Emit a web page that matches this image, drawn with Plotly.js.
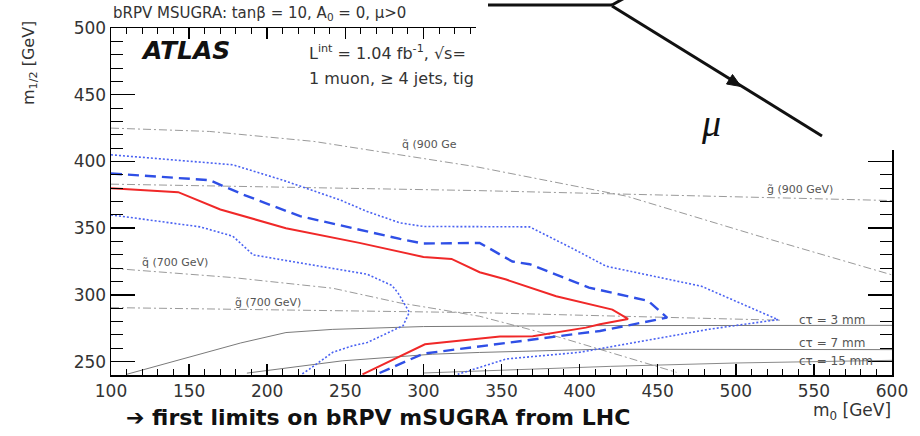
<!DOCTYPE html>
<html><head><meta charset="utf-8">
<script src="https://cdn.plot.ly/plotly-3.0.1.min.js"></script>
<style>html,body{margin:0;padding:0;background:#fff;}#plot{width:920px;height:436px;}</style>
</head><body><div id="plot"></div>
<script>
// Observed limit (red solid)
const obs_m0  = [100,143,170,212,259,300,318,336,353,385,421,431,413,404,370,349,301,261];
const obs_m12 = [380,377,364,350,339,328.5,327,317,311.5,299,289,282,278,275.5,269,268.8,263,240.5];
// Expected limit (blue dashed)
const exp_m0  = [100,163,185,221,285,300,336,357,368,406,444,456,439,413,396,353,311,300,270];
const exp_m12 = [391,386,375,359,342,338.5,339,325,323,305.5,295.5,283,279,273,270.5,264,257.5,256,240.5];
// Expected +1 sigma (outer blue dotted)
const up_m0  = [100,163,178,210,247,264,285,300,368,396,417,478,527,483,430,413,400,353,328,322];
const up_m12 = [405,399,397.5,386,371,362.5,354,351.3,351,334.5,321.5,306.5,281.5,274.3,263,259.3,257,252,243.1,240.5];
// Expected -1 sigma (inner blue dotted)
const dn_m0  = [100,157,178,191,221,264,280,284,291,287,278,264,255,242,227,222];
const dn_m12 = [360,351,344,330,324,315.5,307,301,287,277,272,264.3,262,257,244.4,240.5];
// Squark / gluino iso-mass lines (grey dash-dot)
const sq900_m0 = [100,163,230,334,430,515,600];
const sq900_m12 = [425,422.5,415,396,374,344,315];
const gl900_m0 = [100,334,600];
const gl900_m12 = [383,378.2,370.7];
const sq700_m0 = [100,178,242,285,311,336,388,462];
const sq700_m12 = [320,313,305,294,289,284,268,242];
const gl700_m0 = [100,336,530];
const gl700_m12 = [290.5,286.7,281];
// LSP decay length contours (grey solid)
const ct3_m0 = [110,140,183,212,242,300,400,600];
const ct3_m12 = [240.5,250,264,271.8,274.2,276.3,277,277.2];
const ct7_m0 = [187,210,248,306,336,413,600];
const ct7_m12 = [241.4,245,250.6,255.6,256.9,259.3,259];
const ct15_m0 = [300,350,420,500,600];
const ct15_m12 = [241.5,243.5,246.5,249,251];

const xTicks = [100,150,200,250,300,350,400,450,500,550,600];
const yTicks = [250,300,350,400,450,500];

const F = 'DejaVu Sans';
const dd = '8px,3px,2px,3px';
const grey = '#9a9a9a';
function ln(x,y,color,width,dash){return {x:x,y:y,type:'scatter',mode:'lines',line:{color:color,width:width,dash:dash},hoverinfo:'skip',showlegend:false,cliponaxis:true};}

const data = [
  ln(sq900_m0,sq900_m12,grey,1,dd),
  ln(gl900_m0,gl900_m12,grey,1,dd),
  ln(sq700_m0,sq700_m12,grey,1,dd),
  ln(gl700_m0,gl700_m12,grey,1,dd),
  ln(ct3_m0,ct3_m12,'#7a7a7a',1,'solid'),
  ln(ct7_m0,ct7_m12,'#7a7a7a',1,'solid'),
  ln(ct15_m0,ct15_m12,'#8a8a8a',1,'solid'),
  ln(up_m0,up_m12,'#4a62f2',1.6,'2px,2px'),
  ln(dn_m0,dn_m12,'#4a62f2',1.6,'2px,2px'),
  ln(exp_m0,exp_m12,'#2f4fe6',2.4,'11px,6px'),
  ln(obs_m0,obs_m12,'#f02828',2,'solid')
];

function px2x(p){return (p-111)/781;}
function py2y(p){return (375-p)/347;}

const ann = [];
function A(text,px,py,size,opts){
  ann.push(Object.assign({text:text,xref:'paper',yref:'paper',x:px2x(px),y:py2y(py),xanchor:'left',yanchor:'middle',showarrow:false,font:{family:F,size:size,color:'#333'}},opts||{}));
}
A('bRPV MSUGRA: tanβ = 10, A<sub>0</sub> = 0, μ>0',111,14,15);
A('<b><i>ATLAS</i></b>',139,50,25,{font:{family:F,size:25,color:'#111'}});
A('L<sup>int</sup> = 1.04 fb<sup>-1</sup>, √s=',307,52,16);
A('1 muon, ≥ 4 jets, tig',307,78,16);
A('q̃ (900 Ge',400,144,11,{font:{family:F,size:11,color:'#555'}});
A('g̃ (900 GeV)',765,189,11,{font:{family:F,size:11,color:'#555'}});
A('q̃ (700 GeV)',140,262,11,{font:{family:F,size:11,color:'#555'}});
A('g̃ (700 GeV)',233,302,11,{font:{family:F,size:11,color:'#555'}});
A('cτ = 3 mm',797,320,12,{font:{family:F,size:12,color:'#555'}});
A('cτ = 7 mm',797,343,12,{font:{family:F,size:12,color:'#555'}});
A('cτ = 15 mm',797,361,12,{font:{family:F,size:12,color:'#555'}});
A('m<sub>0</sub> [GeV]',893,411,17,{xanchor:'right'});
A('m<sub>1/2</sub> [GeV]',29,63,16,{xanchor:'center',textangle:-90});
A('<b>➔ first limits on bRPV mSUGRA from LHC</b>',124,418,22,{yanchor:'bottom',y:py2y(432),font:{family:F,size:22,color:'#111'}});
A('<i>μ</i>',711,123,38,{xanchor:'center',font:{family:'Liberation Serif',size:38,color:'#111'}});

const shapes = [
  {type:'rect',xref:'paper',yref:'paper',x0:px2x(476),x1:px2x(925),y0:py2y(150),y1:py2y(-5),fillcolor:'#fff',line:{width:0},layer:'above'},
  {type:'line',xref:'paper',yref:'paper',x0:px2x(488),y0:py2y(5),x1:px2x(612),y1:py2y(5),line:{color:'#111',width:3},layer:'above'},
  {type:'line',xref:'paper',yref:'paper',x0:px2x(612),y0:py2y(5),x1:px2x(630),y1:py2y(-5),line:{color:'#111',width:3},layer:'above'},
  {type:'line',xref:'paper',yref:'paper',x0:px2x(612),y0:py2y(6),x1:px2x(822),y1:py2y(136),line:{color:'#111',width:3},layer:'above'},
  {type:'path',xref:'paper',yref:'paper',path:'M '+px2x(741)+' '+py2y(86.5)+' L '+px2x(726.5)+' '+py2y(84)+' L '+px2x(732.5)+' '+py2y(74.5)+' Z',fillcolor:'#111',line:{color:'#111',width:1},layer:'above'}
];

const axBase = {showgrid:false,zeroline:false,showline:true,linecolor:'#000',linewidth:1.5,ticks:'inside',tickcolor:'#000',tickwidth:1.5,mirror:'ticks',tickfont:{family:F,size:17,color:'#333'}};
const layout = {
  width:920,height:436,margin:{l:111,r:28,t:28,b:61},
  paper_bgcolor:'#fff',plot_bgcolor:'#fff',showlegend:false,
  xaxis:Object.assign({},axBase,{range:[100,600],tickmode:'array',tickvals:xTicks,ticktext:xTicks.map(String),ticklen:11,
    minor:{dtick:10,tick0:100,ticks:'inside',ticklen:6,tickcolor:'#000',tickwidth:1}}),
  yaxis:Object.assign({},axBase,{range:[240,500],tickmode:'array',tickvals:yTicks,ticktext:yTicks.map(String),ticklen:24,
    minor:{dtick:10,tick0:240,ticks:'inside',ticklen:12,tickcolor:'#000',tickwidth:1}}),
  annotations:ann,shapes:shapes
};
Plotly.newPlot('plot',data,layout,{staticPlot:true});
</script></body></html>
